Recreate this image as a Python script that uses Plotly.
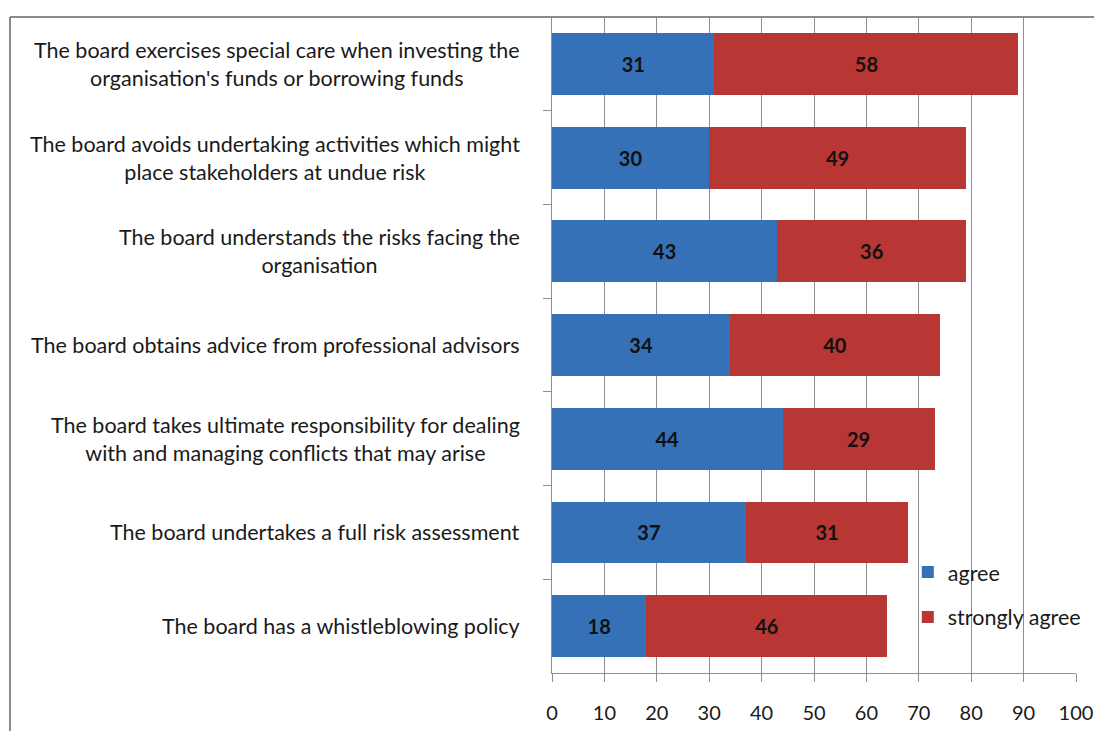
import plotly.graph_objects as go

categories = [
    "The board exercises special care when investing the<br>organisation's funds or borrowing funds",
    "The board avoids undertaking activities which might<br>place stakeholders at undue risk",
    "The board understands the risks facing the<br>organisation",
    "The board obtains advice from professional advisors",
    "The board takes ultimate responsibility for dealing<br>with and managing conflicts that may arise",
    "The board undertakes a full risk assessment",
    "The board has a whistleblowing policy",
]
agree = [31, 30, 43, 34, 44, 37, 18]
strongly_agree = [58, 49, 36, 40, 29, 31, 46]
x_ticks = [0, 10, 20, 30, 40, 50, 60, 70, 80, 90, 100]

FONT = "Lato"
TXT = "#1a1a1a"
GRID = "#8f8f8f"

fig = go.Figure()

fig.add_trace(go.Bar(
    y=categories, x=agree, orientation="h", name="agree",
    marker=dict(color="#3670B6", line=dict(width=0)),
    text=agree, textposition="inside", insidetextanchor="middle",
    textangle=0, textfont=dict(family=FONT, size=20, color="#111"),
    texttemplate="<b>%{text}</b>", legendgroup="a",
))
fig.add_trace(go.Bar(
    y=categories, x=strongly_agree, orientation="h", name="strongly agree",
    marker=dict(color="#B83634", line=dict(width=0)),
    text=strongly_agree, textposition="inside", insidetextanchor="middle",
    textangle=0, textfont=dict(family=FONT, size=20, color="#111"),
    texttemplate="<b>%{text}</b>", legendgroup="b",
))

# category labels: lines centred, block right aligned next to the axis
for c in categories:
    fig.add_annotation(
        x=0, y=c, xref="x", yref="y", text=c, showarrow=False,
        xanchor="right", yanchor="middle", align="center", xshift=-30,
        font=dict(family=FONT, size=21.5, color=TXT),
    )

# outer chart frame (left and top edge)
fx = (10 - 552) / 524
fig.add_shape(type="line", xref="paper", yref="paper",
              x0=fx, x1=fx, y0=1, y1=-0.2,
              line=dict(color="#8a8a8a", width=2))
fig.add_shape(type="line", xref="paper", yref="paper",
              x0=fx, x1=1.1, y0=1, y1=1,
              line=dict(color="#8a8a8a", width=2))

# page body adds an 8px offset, margins compensate
fig.update_layout(
    width=1102, height=731,
    margin=dict(l=544, r=34, t=9, b=66),
    barmode="stack", bargap=0.34,
    plot_bgcolor="white", paper_bgcolor="white",
    font=dict(family=FONT, size=20, color=TXT),
    xaxis=dict(
        range=[0, 100], tickvals=x_ticks, showgrid=True, gridcolor=GRID,
        gridwidth=1, showline=True, linecolor=GRID, ticks="outside",
        ticklen=8, tickcolor=GRID, tickfont=dict(size=20, color=TXT),
        ticklabelstandoff=14, zeroline=False,
    ),
    yaxis=dict(
        categoryorder="array", categoryarray=categories, autorange="reversed",
        showticklabels=False, showline=True, linecolor=GRID,
        ticks="outside", tickson="boundaries", ticklen=8, tickcolor=GRID,
        showgrid=False,
    ),
    legend=dict(
        x=0.679, y=0.185, xanchor="left", yanchor="top",
        font=dict(family=FONT, size=21.5, color=TXT),
        traceorder="grouped", tracegroupgap=14, bgcolor="rgba(0,0,0,0)",
    ),
    uniformtext=dict(minsize=20, mode="show"),
)

fig.write_html("out.html")
